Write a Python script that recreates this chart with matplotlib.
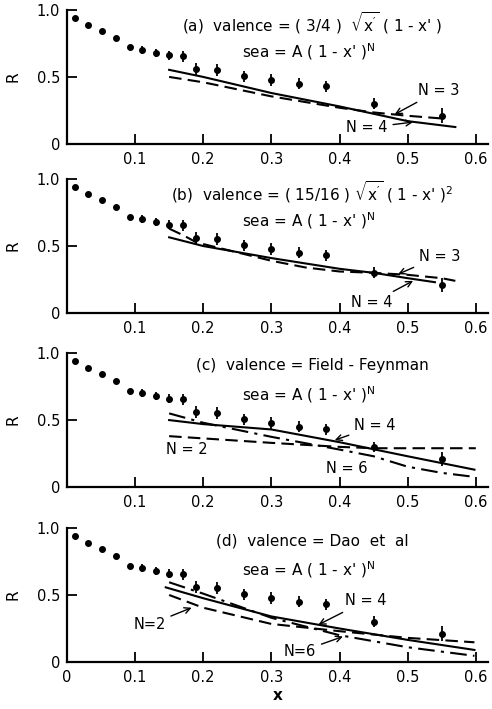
import matplotlib
matplotlib.use("Agg")
import matplotlib.pyplot as plt

plt.rcParams["mathtext.default"] = "regular"
plt.rcParams["font.family"] = "DejaVu Sans"

# measured ratio R versus x (same data in all four panels)
x_data = [0.012, 0.031, 0.051, 0.072, 0.092, 0.11, 0.13, 0.15, 0.17,
          0.19, 0.22, 0.26, 0.30, 0.34, 0.38, 0.45, 0.55]
r_data = [0.94, 0.89, 0.845, 0.79, 0.72, 0.70, 0.68, 0.66, 0.655,
          0.56, 0.555, 0.505, 0.48, 0.45, 0.43, 0.30, 0.21]
r_err = [0, 0, 0, 0, 0, 0.03, 0.03, 0.035, 0.04,
         0.045, 0.045, 0.04, 0.045, 0.04, 0.04, 0.04, 0.055]

# (a) model curves
a4_x = [0.15, 0.2, 0.3, 0.4, 0.5, 0.57]
a4_y = [0.553, 0.50, 0.38, 0.28, 0.17, 0.126]
a3_x = [0.15, 0.2, 0.3, 0.4, 0.45, 0.5, 0.55]
a3_y = [0.50, 0.46, 0.355, 0.27, 0.235, 0.21, 0.19]

# (b)
b4_x = [0.15, 0.2, 0.3, 0.4, 0.45, 0.5, 0.54]
b4_y = [0.565, 0.50, 0.41, 0.33, 0.30, 0.26, 0.23]
b3_x = [0.15, 0.172, 0.19, 0.26, 0.3, 0.35, 0.4, 0.45, 0.5, 0.55, 0.57]
b3_y = [0.63, 0.577, 0.527, 0.44, 0.39, 0.34, 0.31, 0.30, 0.285, 0.26, 0.24]

# (c)
c4_x = [0.15, 0.2, 0.3, 0.4, 0.5, 0.598]
c4_y = [0.50, 0.47, 0.43, 0.335, 0.23, 0.13]
c2_x = [0.15, 0.3, 0.4, 0.45, 0.6]
c2_y = [0.38, 0.33, 0.30, 0.29, 0.29]
c6_x = [0.15, 0.2, 0.3, 0.4, 0.45, 0.5, 0.55, 0.598]
c6_y = [0.55, 0.48, 0.375, 0.28, 0.23, 0.152, 0.106, 0.076]

# (d)
d4_x = [0.145, 0.2, 0.3, 0.4, 0.5, 0.598]
d4_y = [0.557, 0.476, 0.34, 0.25, 0.165, 0.09]
d2_x = [0.15, 0.2, 0.3, 0.4, 0.5, 0.598]
d2_y = [0.50, 0.405, 0.284, 0.23, 0.18, 0.147]
d6_x = [0.15, 0.2, 0.3, 0.4, 0.5, 0.598]
d6_y = [0.595, 0.51, 0.33, 0.20, 0.11, 0.046]

titles = [r"(a)  valence = ( 3/4 )  $\sqrt{x^{\prime}}$ ( 1 - x' )",
          r"(b)  valence = ( 15/16 ) $\sqrt{x^{\prime}}$ ( 1 - x' )$^2$",
          "(c)  valence = Field - Feynman",
          "(d)  valence = Dao  et  al"]
sea_label = r"sea = A ( 1 - x' )$^N$"

DASH = (0, (6, 3))
DASHDOT = (0, (8, 3, 1.5, 3))

fig = plt.figure(figsize=(4.92, 7.09), dpi=100)
bottoms = [0.797, 0.5585, 0.313, 0.0663]
axes = [fig.add_axes([0.136, b, 0.856, 0.189]) for b in bottoms]

for i, ax in enumerate(axes):
    ax.errorbar(x_data, r_data, yerr=r_err, fmt="o", ms=4, color="black",
                elinewidth=1.3, capsize=0)
    ax.set_xlim(0, 0.618)
    ax.set_ylim(0, 1.0)
    ax.spines["top"].set_visible(False)
    ax.spines["right"].set_visible(False)
    ax.spines["left"].set_linewidth(1.6)
    ax.spines["bottom"].set_linewidth(1.6)
    ax.set_yticks([0, 0.5, 1.0])
    ax.set_yticklabels(["0", "0.5", "1.0"])
    if i == 3:
        ax.set_xticks([0, 0.1, 0.2, 0.3, 0.4, 0.5, 0.6])
        ax.set_xticklabels(["0", "0.1", "0.2", "0.3", "0.4", "0.5", "0.6"])
        ax.set_xlabel("x", fontsize=11, fontweight="bold", labelpad=2)
    else:
        ax.set_xticks([0.1, 0.2, 0.3, 0.4, 0.5, 0.6])
        ax.set_xticklabels(["0.1", "0.2", "0.3", "0.4", "0.5", "0.6"])
    ax.tick_params(direction="in", length=7, width=1.3, labelsize=10.5,
                   pad=5)
    ax.tick_params(axis="x", pad=6)
    ax.set_ylabel("R", fontsize=11, labelpad=2)
    ax.yaxis.set_label_coords(-0.11, 0.5)
    ax.text(0.36, 0.905, titles[i], fontsize=11, ha="center", va="center")
    ax.text(0.355, 0.69, sea_label, fontsize=11, ha="center", va="center")

arrow = dict(arrowstyle="->", color="black", lw=1.0,
             shrinkA=2, shrinkB=0)

ax = axes[0]
ax.plot(a4_x, a4_y, color="black", lw=1.5)
ax.plot(a3_x, a3_y, color="black", lw=1.5, linestyle=DASH)
ax.annotate("N = 3", xy=(0.481, 0.221), xytext=(0.545, 0.397),
            ha="center", va="center", fontsize=10.5, arrowprops=arrow)
ax.annotate("N = 4", xy=(0.508, 0.163), xytext=(0.44, 0.12),
            ha="center", va="center", fontsize=10.5, arrowprops=arrow)

ax = axes[1]
ax.plot(b4_x, b4_y, color="black", lw=1.5)
ax.plot(b3_x, b3_y, color="black", lw=1.5, linestyle=DASH)
ax.annotate("N = 3", xy=(0.486, 0.29), xytext=(0.547, 0.425),
            ha="center", va="center", fontsize=10.5, arrowprops=arrow)
ax.annotate("N = 4", xy=(0.508, 0.24), xytext=(0.447, 0.075),
            ha="center", va="center", fontsize=10.5, arrowprops=arrow)

ax = axes[2]
ax.plot(c4_x, c4_y, color="black", lw=1.5)
ax.plot(c2_x, c2_y, color="black", lw=1.5, linestyle=DASH)
ax.plot(c6_x, c6_y, color="black", lw=1.5, linestyle=DASHDOT)
ax.annotate("N = 4", xy=(0.393, 0.35), xytext=(0.452, 0.456),
            ha="center", va="center", fontsize=10.5, arrowprops=arrow)
ax.text(0.176, 0.278, "N = 2", ha="center", va="center", fontsize=10.5)
ax.text(0.41, 0.14, "N = 6", ha="center", va="center", fontsize=10.5)

ax = axes[3]
ax.plot(d4_x, d4_y, color="black", lw=1.5)
ax.plot(d2_x, d2_y, color="black", lw=1.5, linestyle=DASH)
ax.plot(d6_x, d6_y, color="black", lw=1.5, linestyle=DASHDOT)
ax.annotate("N = 4", xy=(0.369, 0.278), xytext=(0.438, 0.456),
            ha="center", va="center", fontsize=10.5, arrowprops=arrow)
ax.annotate("N=2", xy=(0.183, 0.405), xytext=(0.121, 0.278),
            ha="center", va="center", fontsize=10.5, arrowprops=arrow)
ax.annotate("N=6", xy=(0.405, 0.19), xytext=(0.342, 0.076),
            ha="center", va="center", fontsize=10.5, arrowprops=arrow)

fig.savefig("out.png", dpi=100)
